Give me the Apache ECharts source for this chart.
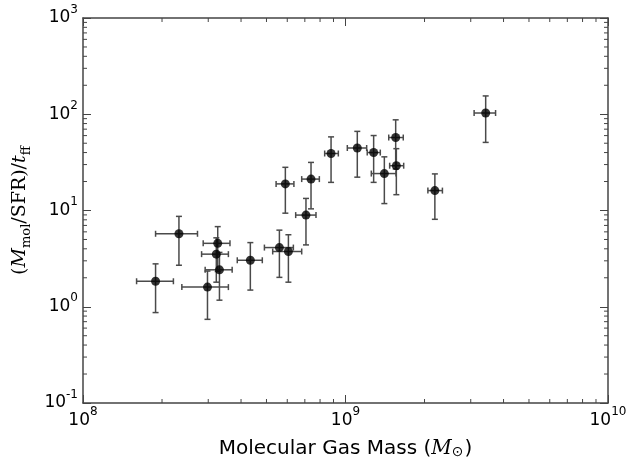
<!DOCTYPE html>
<html>
<head>
<meta charset="utf-8">
<script src="https://cdn.jsdelivr.net/npm/echarts@6/dist/echarts.min.js"></script>
<style>
html,body{margin:0;padding:0;background:#fff;}
#chart{width:641px;height:464px;}
</style>
</head>
<body>
<div id="chart"></div>
<script>
// Molecular gas mass (Msun) with x error range
const massX  = [1.89e8, 2.32e8, 2.98e8, 3.26e8, 3.22e8, 3.31e8, 4.34e8, 5.60e8, 6.06e8, 7.07e8, 5.90e8, 7.39e8, 8.81e8, 1.109e9, 1.28e9, 1.406e9, 1.553e9, 1.562e9, 2.19e9, 3.42e9];
const massLo = [1.60e8, 1.89e8, 2.38e8, 2.87e8, 2.83e8, 2.92e8, 3.87e8, 4.91e8, 5.28e8, 6.46e8, 5.44e8, 6.81e8, 8.33e8, 1.016e9, 1.21e9, 1.254e9, 1.461e9, 1.473e9, 2.06e9, 3.09e9];
const massHi = [2.21e8, 2.73e8, 3.58e8, 3.63e8, 3.58e8, 3.70e8, 4.82e8, 6.33e8, 6.81e8, 7.72e8, 6.36e8, 7.95e8, 9.39e8, 1.204e9, 1.357e9, 1.557e9, 1.66e9, 1.666e9, 2.34e9, 3.73e9];
// (M_mol/SFR)/t_ff with y error range
const ratioY  = [1.84, 5.73, 1.60, 4.56, 3.52, 2.42, 3.04, 4.12, 3.75, 8.96, 18.9, 21.2, 39.1, 44.6, 40.0, 24.2, 57.3, 29.2, 16.1, 103];
const ratioLo = [0.87, 2.70, 0.74, 2.32, 1.80, 1.17, 1.49, 2.02, 1.80, 4.39, 9.38, 10.4, 19.6, 22.2, 19.6, 11.8, 27.0, 14.6, 8.1, 51];
const ratioHi = [2.79, 8.69, 2.35, 6.80, 5.20, 3.67, 4.64, 6.25, 5.60, 13.35, 28.1, 31.6, 58.2, 66.4, 60.1, 36.1, 87.5, 43.9, 24.0, 155];
// axis ranges / minor tick multipliers
const xRange = [1e8, 1e10];
const yRange = [0.1, 1000];
const minorMult = [2, 3, 4, 5, 6, 7, 8, 9];

const chart = echarts.init(document.getElementById('chart'), null, {renderer: 'canvas'});

const points = massX.map((x, i) => [x, ratioY[i], massLo[i], massHi[i], ratioLo[i], ratioHi[i]]);

function decadeMinor(lo, hi) {
  const out = [];
  for (let e = Math.round(Math.log10(lo)); e < Math.round(Math.log10(hi)); e++) {
    minorMult.forEach(m => out.push(m * Math.pow(10, e)));
  }
  return out;
}
const xMinor = decadeMinor(xRange[0], xRange[1]);
const yMinor = decadeMinor(yRange[0], yRange[1]);

const FRAME = '#444';
const tickFmt = v => '{b|10}{s|' + Math.round(Math.log10(v)) + '}';
const tickRich = {
  b: {fontFamily: 'DejaVu Sans', fontSize: 17, color: '#000', padding: [6, 0, 6, 0]},
  s: {fontFamily: 'DejaVu Sans', fontSize: 12, color: '#000', verticalAlign: 'top'}
};

function baseAxis(type, pos, range, showLabel) {
  return {
    type: 'log', logBase: 10, position: pos,
    min: range[0], max: range[1], interval: 1,
    axisLine: {show: true, onZero: false, lineStyle: {color: FRAME, width: 1.5}},
    axisTick: {show: true, inside: true, length: 8, lineStyle: {color: FRAME, width: 1}},
    minorTick: {show: false},
    splitLine: {show: false},
    axisLabel: {show: showLabel, formatter: tickFmt, rich: tickRich, margin: type === 'x' ? 3 : 5}
  };
}

const option = {
  animation: false,
  backgroundColor: '#fff',
  grid: {left: 83, right: 33, top: 18, bottom: 56, containLabel: false},
  xAxis: [
    Object.assign(baseAxis('x', 'bottom', xRange, true), {
      name: '{t|Molecular Gas Mass (}{mi|M}{sub|⊙}{t|)}',
      nameLocation: 'middle', nameGap: 36,
      nameTextStyle: {
        rich: {
          t: {fontFamily: 'DejaVu Sans', fontSize: 20, color: '#000'},
          mi: {fontFamily: 'DejaVu Serif', fontStyle: 'italic', fontSize: 20, color: '#000'},
          sub: {fontFamily: 'DejaVu Sans', fontSize: 14, color: '#000', verticalAlign: 'bottom', padding: [0, 1, 0, 0]}
        }
      }
    }),
    baseAxis('x', 'top', xRange, false)
  ],
  yAxis: [
    Object.assign(baseAxis('y', 'left', yRange, true), {
      name: '{t|(}{mi|M}{sub|mol}{t|/SFR)/}{mi|t}{sub|ff}',
      nameLocation: 'middle', nameGap: 44, nameRotate: 90,
      nameTextStyle: {
        rich: {
          t: {fontFamily: 'DejaVu Serif', fontSize: 19, color: '#000', padding: [0, 0, 4, 0]},
          mi: {fontFamily: 'DejaVu Serif', fontStyle: 'italic', fontSize: 19, color: '#000', padding: [0, 0, 4, 0]},
          sub: {fontFamily: 'DejaVu Serif', fontSize: 13, color: '#000', verticalAlign: 'bottom'}
        }
      }
    }),
    baseAxis('y', 'right', yRange, false)
  ],
  series: [
    {
      type: 'custom', xAxisIndex: 0, yAxisIndex: 0, z: 3, silent: true,
      data: points,
      renderItem: function (params, api) {
        const x = api.value(0), y = api.value(1);
        const p = api.coord([x, y]);
        const xl = api.coord([api.value(2), y]);
        const xh = api.coord([api.value(3), y]);
        const yl = api.coord([x, api.value(4)]);
        const yh = api.coord([x, api.value(5)]);
        const c = 3;
        const st = {stroke: '#4a4a4a', lineWidth: 1.5, fill: null};
        return {
          type: 'group',
          children: [
            {type: 'line', shape: {x1: xl[0], y1: p[1], x2: xh[0], y2: p[1]}, style: st},
            {type: 'line', shape: {x1: xl[0], y1: p[1] - c, x2: xl[0], y2: p[1] + c}, style: st},
            {type: 'line', shape: {x1: xh[0], y1: p[1] - c, x2: xh[0], y2: p[1] + c}, style: st},
            {type: 'line', shape: {x1: p[0], y1: yl[1], x2: p[0], y2: yh[1]}, style: st},
            {type: 'line', shape: {x1: p[0] - c, y1: yl[1], x2: p[0] + c, y2: yl[1]}, style: st},
            {type: 'line', shape: {x1: p[0] - c, y1: yh[1], x2: p[0] + c, y2: yh[1]}, style: st}
          ]
        };
      }
    },
    {
      type: 'scatter', xAxisIndex: 0, yAxisIndex: 0, z: 4,
      symbol: 'circle', symbolSize: 9,
      itemStyle: {color: '#000'},
      data: massX.map((x, i) => [x, ratioY[i]])
    },
    {
      // minor ticks on bottom and top x edges
      type: 'custom', xAxisIndex: 0, yAxisIndex: 0, z: 5, silent: true,
      data: xMinor.map(v => [v]),
      encode: {x: 0},
      renderItem: function (params, api) {
        const cs = params.coordSys;
        const px = api.coord([api.value(0), yRange[0]])[0];
        const st = {stroke: FRAME, lineWidth: 1};
        return {type: 'group', children: [
          {type: 'line', shape: {x1: px, y1: cs.y + cs.height, x2: px, y2: cs.y + cs.height - 4}, style: st},
          {type: 'line', shape: {x1: px, y1: cs.y, x2: px, y2: cs.y + 4}, style: st}
        ]};
      }
    },
    {
      // minor ticks on left and right y edges
      type: 'custom', xAxisIndex: 0, yAxisIndex: 0, z: 5, silent: true,
      data: yMinor.map(v => [xRange[0], v]),
      renderItem: function (params, api) {
        const cs = params.coordSys;
        const py = api.coord([xRange[0], api.value(1)])[1];
        const st = {stroke: FRAME, lineWidth: 1};
        return {type: 'group', children: [
          {type: 'line', shape: {x1: cs.x, y1: py, x2: cs.x + 4, y2: py}, style: st},
          {type: 'line', shape: {x1: cs.x + cs.width, y1: py, x2: cs.x + cs.width - 4, y2: py}, style: st}
        ]};
      }
    }
  ]
};
chart.setOption(option);
</script>
</body>
</html>
